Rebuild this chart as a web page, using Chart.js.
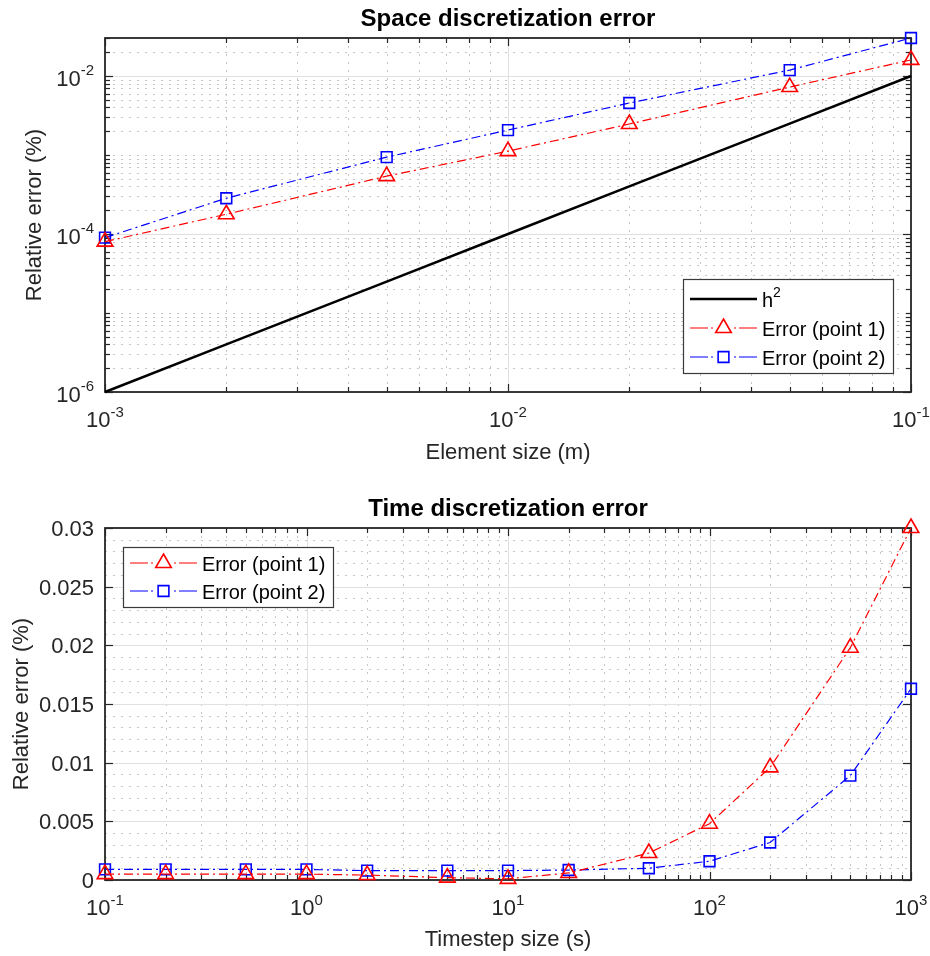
<!DOCTYPE html>
<html>
<head>
<meta charset="utf-8">
<title>Discretization error</title>
<script src="https://cdn.jsdelivr.net/npm/chart.js@4.4.1/dist/chart.umd.min.js"></script>
<style>
  html, body { margin: 0; padding: 0; background: #fff; }
  #page { position: relative; width: 930px; height: 956px; }
  canvas { position: absolute; left: 0; }
  #c-space { top: 0; }
  #c-time { top: 478px; }
</style>
</head>
<body>
<div id="page">
  <canvas id="c-space" width="930" height="478"></canvas>
  <canvas id="c-time" width="930" height="478"></canvas>
</div>
<script>
/* space / time discretization error, two log plots */

// top plot: element size (m) vs relative error (%)
const spaceSizes = [0.001, 0.002, 0.005, 0.01, 0.02, 0.05, 0.1];
const hSquared = [1e-6, 4e-6, 2.5e-5, 1e-4, 4e-4, 2.5e-3, 1e-2];
const spaceErr1 = [8.0e-5, 1.78e-4, 5.4e-4, 1.12e-3, 2.47e-3, 7.25e-3, 0.0160];
const spaceErr2 = [9.0e-5, 2.84e-4, 9.4e-4, 2.07e-3, 4.55e-3, 0.0119, 0.0303];
const spaceXTicks = [1e-3, 1e-2, 1e-1];
const spaceXTickText = [["10", "-3"], ["10", "-2"], ["10", "-1"]];
const spaceYTicks = [1e-6, 1e-4, 1e-2];
const spaceYTickText = [["10", "-6"], ["10", "-4"], ["10", "-2"]];
const spaceLegend = [["h", "2"], ["Error (point 1)", ""], ["Error (point 2)", ""]];

// bottom plot: timestep size (s) vs relative error (%)
const timeSteps = [0.1, 0.2, 0.5, 1, 2, 5, 10, 20, 50, 100, 200, 500, 1000];
const timeErr1 = [0.0005, 0.0005, 0.0005, 0.0005, 0.00042, 0.0002, 0.0001, 0.0006, 0.0023, 0.0048, 0.0096, 0.0198, 0.0300];
const timeErr2 = [0.0009, 0.0009, 0.0009, 0.0009, 0.0008, 0.0008, 0.0008, 0.00085, 0.0010, 0.0016, 0.0032, 0.0089, 0.0163];
const timeXTicks = [0.1, 1, 10, 100, 1000];
const timeXTickText = [["10", "-1"], ["10", "0"], ["10", "1"], ["10", "2"], ["10", "3"]];
const timeYTicks = [0, 0.005, 0.01, 0.015, 0.02, 0.025, 0.03];
const timeYTickText = [["0", ""], ["0.005", ""], ["0.01", ""], ["0.015", ""], ["0.02", ""], ["0.025", ""], ["0.03", ""]];
const timeLegend = [["Error (point 1)", ""], ["Error (point 2)", ""]];

const FONT = "'Liberation Sans', Arial, Helvetica, sans-serif";
const AXIS_COLOR = "#262626";

const redStyle = {
  borderColor: "#ff0000", borderWidth: 1.2, borderDash: [9, 4, 2, 4],
  pointStyle: "triangle", pointRadius: 9, pointBorderWidth: 1.6,
  pointBorderColor: "#ff0000", pointBackgroundColor: "rgba(0,0,0,0)",
};
const blueStyle = {
  borderColor: "#0000ff", borderWidth: 1.2, borderDash: [9, 4, 2, 4],
  pointStyle: "rect", pointRadius: 7.6, pointBorderWidth: 1.6,
  pointBorderColor: "#0000ff", pointBackgroundColor: "rgba(0,0,0,0)",
};
const blackStyle = { borderColor: "#000000", borderWidth: 2.5, pointRadius: 0 };

function pts(xs, ys) {
  return xs.map((x, i) => ({ x, y: ys[i] }));
}

// minor positions k*10^n inside [min, max], majors left out
function minorLog(min, max, majors) {
  const out = [];
  for (let n = Math.floor(Math.log10(min)); n <= Math.floor(Math.log10(max)); n++) {
    for (let k = 1; k <= 9; k++) {
      const v = k * Math.pow(10, n);
      if (v < min * 0.999999 || v > max * 1.000001) continue;
      if (majors.some((m) => Math.abs(m - v) / m < 1e-6)) continue;
      out.push(v);
    }
  }
  return out;
}

function minorLin(min, max, step, majors) {
  const out = [];
  const n = Math.round((max - min) / step);
  for (let i = 0; i <= n; i++) {
    const v = min + i * step;
    if (majors.some((m) => Math.abs(m - v) < step * 1e-6)) continue;
    out.push(v);
  }
  return out;
}

function seg(ctx, x1, y1, x2, y2) {
  ctx.beginPath();
  ctx.moveTo(x1, y1);
  ctx.lineTo(x2, y2);
  ctx.stroke();
}

// base text with a raised exponent, y is centre of the base text
function drawPow(ctx, txt, x, y, align, color, size, supSize, lift) {
  const [base, exp] = txt;
  ctx.fillStyle = color;
  ctx.font = `${size}px ${FONT}`;
  const wb = ctx.measureText(base).width;
  ctx.font = `${supSize}px ${FONT}`;
  const we = exp ? ctx.measureText(exp).width : 0;
  const left = align === "right" ? x - wb - we : align === "left" ? x : x - (wb + we) / 2;
  ctx.textAlign = "left";
  ctx.textBaseline = "middle";
  ctx.font = `${size}px ${FONT}`;
  ctx.fillText(base, left, y);
  if (exp) {
    ctx.font = `${supSize}px ${FONT}`;
    ctx.fillText(exp, left + wb, y - lift);
  }
}

const matlabAxes = {
  id: "matlabAxes",
  beforeDatasetsDraw(chart, args, o) {
    const { ctx, chartArea: a } = chart;
    const x = chart.scales.x, y = chart.scales.y;
    const px = (v) => Math.round(x.getPixelForValue(v)) + 0.5;
    const py = (v) => Math.round(y.getPixelForValue(v)) + 0.5;
    ctx.save();
    ctx.lineWidth = 1;
    // minor grid, dotted
    ctx.strokeStyle = "#c6c6c6";
    ctx.setLineDash([2, 6]);
    o.xMinor.forEach((v) => seg(ctx, px(v), a.top, px(v), a.bottom));
    o.yMinor.forEach((v) => seg(ctx, a.left, py(v), a.right, py(v)));
    // major grid
    ctx.setLineDash([]);
    ctx.strokeStyle = "#e1e1e1";
    o.xMajor.forEach((v) => seg(ctx, px(v), a.top, px(v), a.bottom));
    o.yMajor.forEach((v) => seg(ctx, a.left, py(v), a.right, py(v)));
    // ticks, pointing inward on all four sides
    ctx.strokeStyle = AXIS_COLOR;
    ctx.lineWidth = 1.2;
    o.xMajor.forEach((v) => { seg(ctx, px(v), a.bottom, px(v), a.bottom - 8); seg(ctx, px(v), a.top, px(v), a.top + 8); });
    o.yMajor.forEach((v) => { seg(ctx, a.left, py(v), a.left + 8, py(v)); seg(ctx, a.right, py(v), a.right - 8, py(v)); });
    if (o.xMinorTicks) o.xMinor.forEach((v) => { seg(ctx, px(v), a.bottom, px(v), a.bottom - 5); seg(ctx, px(v), a.top, px(v), a.top + 5); });
    if (o.yMinorTicks) o.yMinor.forEach((v) => { seg(ctx, a.left, py(v), a.left + 5, py(v)); seg(ctx, a.right, py(v), a.right - 5, py(v)); });
    // box
    ctx.lineWidth = 1.8;
    ctx.strokeRect(a.left, a.top, a.right - a.left, a.bottom - a.top);
    ctx.restore();
  },
  afterDraw(chart, args, o) {
    const { ctx, chartArea: a } = chart;
    const x = chart.scales.x, y = chart.scales.y;
    ctx.save();
    // tick labels
    o.xMajor.forEach((v, i) => drawPow(ctx, o.xTickText[i], x.getPixelForValue(v), a.bottom + 29, "center", AXIS_COLOR, 22, 15, 8.5));
    o.yMajor.forEach((v, i) => {
      const t = o.yTickText[i];
      drawPow(ctx, t, a.left - 11, y.getPixelForValue(v) + (t[1] ? 3.5 : 2), "right", AXIS_COLOR, 22, 15, 8.5);
    });
    // title and axis labels
    ctx.textAlign = "center";
    ctx.textBaseline = "middle";
    ctx.fillStyle = "#000";
    ctx.font = `bold 24px ${FONT}`;
    ctx.fillText(o.title, (a.left + a.right) / 2, o.titleY);
    ctx.fillStyle = AXIS_COLOR;
    ctx.font = `22px ${FONT}`;
    ctx.fillText(o.xLabel, (a.left + a.right) / 2, o.xLabelY);
    ctx.save();
    ctx.translate(o.yLabelX, (a.top + a.bottom) / 2);
    ctx.rotate(-Math.PI / 2);
    ctx.fillText(o.yLabel, 0, 0);
    ctx.restore();
    // legend box
    const L = o.legend;
    const [bx, by, bw, bh] = L.box;
    ctx.fillStyle = "#fff";
    ctx.fillRect(bx, by, bw, bh);
    ctx.strokeStyle = "#3a3a3a";
    ctx.lineWidth = 1.2;
    ctx.strokeRect(bx + 0.5, by + 0.5, bw, bh);
    const mid = (L.sampleX[0] + L.sampleX[1]) / 2;
    chart.data.datasets.forEach((ds, i) => {
      const ry = L.rowY[i];
      ctx.strokeStyle = ds.borderColor;
      ctx.lineWidth = ds.borderWidth;
      if (ds.borderDash) {
        // mirrored dash-dot so the marker sits between two dots
        ctx.setLineDash([18, 3, 2, 30]);
        seg(ctx, L.sampleX[0], ry, mid, ry);
        seg(ctx, L.sampleX[1], ry, mid, ry);
        ctx.setLineDash([]);
      } else {
        seg(ctx, L.sampleX[0], ry, L.sampleX[1], ry);
      }
      if (ds.pointRadius > 0) {
        ctx.fillStyle = "rgba(0,0,0,0)";
        ctx.strokeStyle = ds.pointBorderColor;
        ctx.lineWidth = ds.pointBorderWidth;
        Chart.helpers.drawPoint(ctx, { pointStyle: ds.pointStyle, radius: ds.pointRadius, borderWidth: ds.pointBorderWidth, rotation: 0 }, mid, ry);
      }
      drawPow(ctx, L.labels[i], L.textX, ry + 2, "left", "#000", 20, 14, 8);
    });
    ctx.restore();
  },
};

function baseOptions(xMin, xMax, yType, yMin, yMax, pad, axes) {
  return {
    responsive: false,
    animation: false,
    devicePixelRatio: 1,
    layout: { padding: pad },
    scales: {
      x: { type: "logarithmic", min: xMin, max: xMax, bounds: "data", display: false },
      y: { type: yType, min: yMin, max: yMax, bounds: "data", display: false },
    },
    plugins: { legend: { display: false }, tooltip: { enabled: false }, title: { display: false }, matlabAxes: axes },
    elements: { line: { tension: 0, fill: false } },
  };
}

new Chart(document.getElementById("c-space"), {
  type: "line",
  data: {
    datasets: [
      { label: "h2", data: pts(spaceSizes, hSquared), ...blackStyle, clip: false },
      { label: "Error (point 1)", data: pts(spaceSizes, spaceErr1), ...redStyle, clip: false },
      { label: "Error (point 2)", data: pts(spaceSizes, spaceErr2), ...blueStyle, clip: false },
    ],
  },
  options: baseOptions(spaceXTicks[0], spaceXTicks[2], "logarithmic", spaceYTicks[0], Math.max(...spaceErr2),
    { left: 105, right: 19, top: 38, bottom: 86 },
    {
      title: "Space discretization error", titleY: 19,
      xLabel: "Element size (m)", xLabelY: 453,
      yLabel: "Relative error (%)", yLabelX: 35,
      xMajor: spaceXTicks, xMinor: minorLog(spaceXTicks[0], spaceXTicks[2], spaceXTicks), xMinorTicks: true,
      yMajor: spaceYTicks, yMinor: minorLog(spaceYTicks[0], Math.max(...spaceErr2), spaceYTicks), yMinorTicks: true,
      xTickText: spaceXTickText, yTickText: spaceYTickText,
      legend: { box: [683, 279, 210, 94], sampleX: [690, 757], textX: 762, rowY: [299, 328, 357], labels: spaceLegend },
    }),
  plugins: [matlabAxes],
});

new Chart(document.getElementById("c-time"), {
  type: "line",
  data: {
    datasets: [
      { label: "Error (point 1)", data: pts(timeSteps, timeErr1), ...redStyle, clip: false },
      { label: "Error (point 2)", data: pts(timeSteps, timeErr2), ...blueStyle, clip: false },
    ],
  },
  options: baseOptions(timeXTicks[0], timeXTicks[4], "linear", timeYTicks[0], timeYTicks[6],
    { left: 105, right: 19, top: 50, bottom: 76 },
    {
      title: "Time discretization error", titleY: 31,
      xLabel: "Timestep size (s)", xLabelY: 462,
      yLabel: "Relative error (%)", yLabelX: 22,
      xMajor: timeXTicks, xMinor: minorLog(timeXTicks[0], timeXTicks[4], timeXTicks), xMinorTicks: true,
      yMajor: timeYTicks, yMinor: minorLin(0, 0.03, 0.001, timeYTicks), yMinorTicks: false,
      xTickText: timeXTickText, yTickText: timeYTickText,
      legend: { box: [123, 69, 210, 60], sampleX: [130, 197], textX: 202, rowY: [85, 113], labels: timeLegend },
    }),
  plugins: [matlabAxes],
});
</script>
</body>
</html>
